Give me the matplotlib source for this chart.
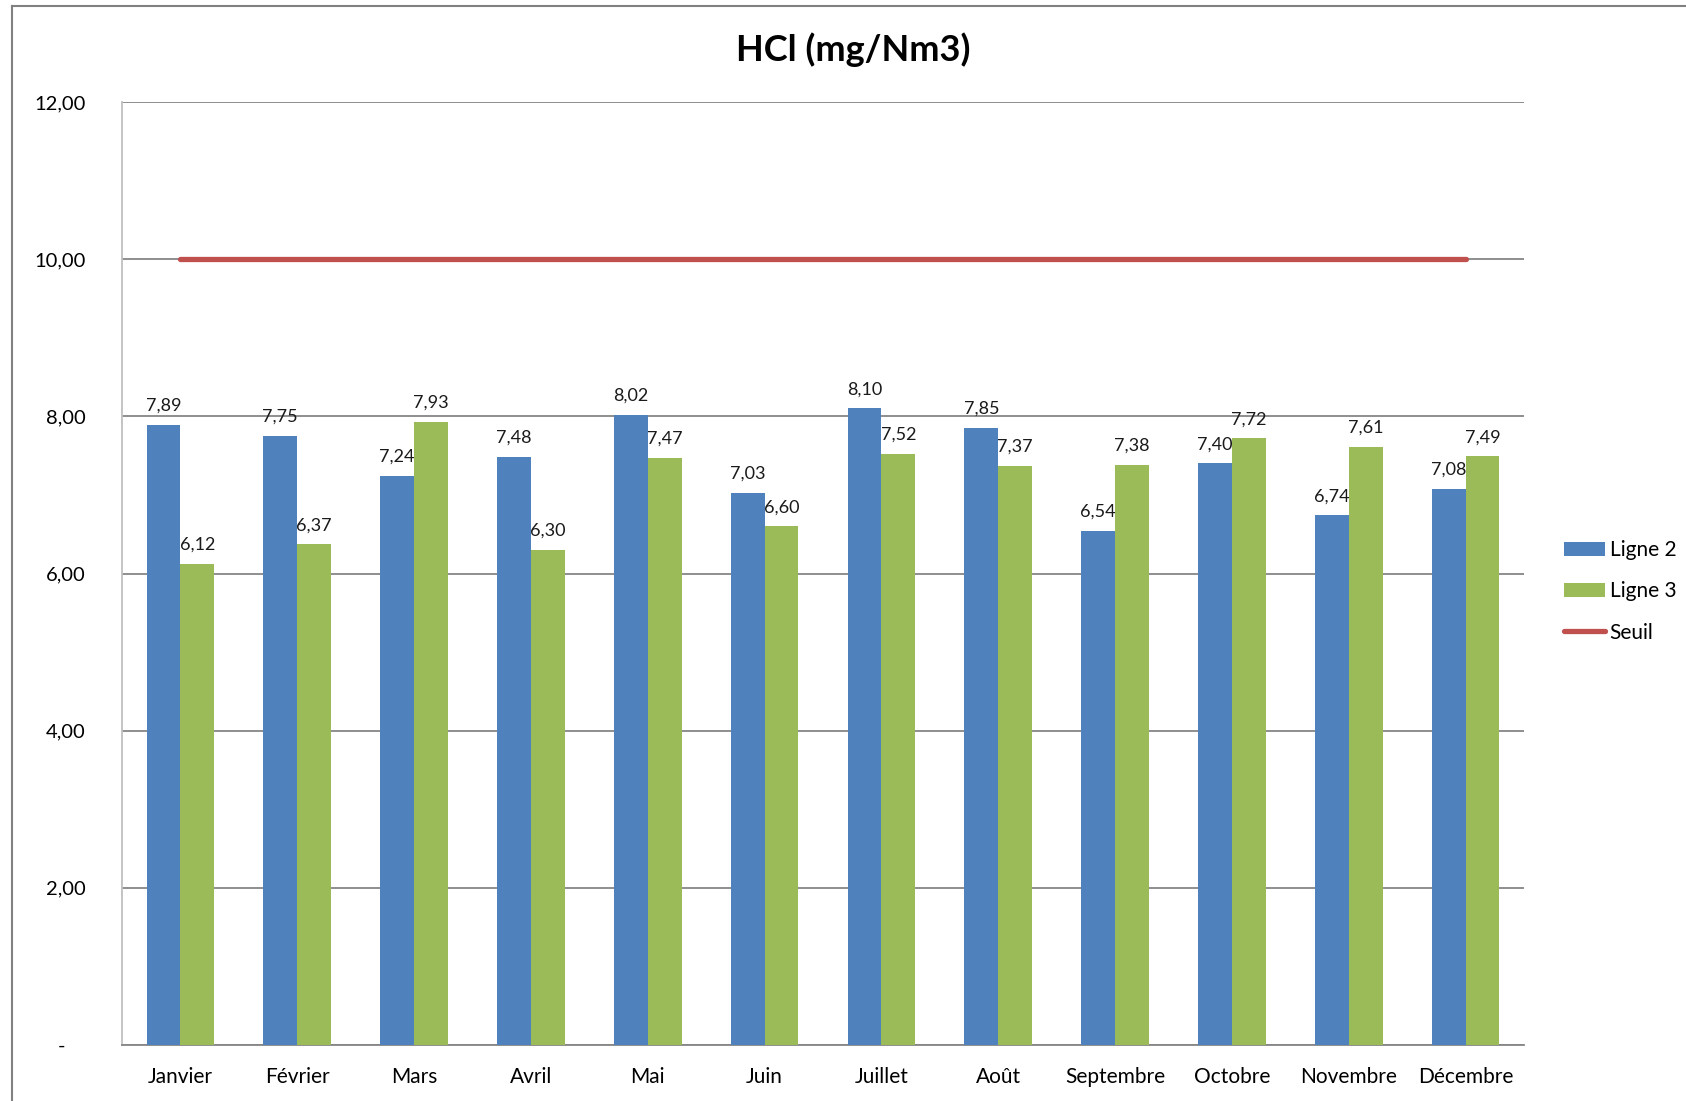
import numpy as np
import matplotlib
matplotlib.use("Agg")
import matplotlib.pyplot as plt
from matplotlib.lines import Line2D

# Data
months = ["Janvier", "Février", "Mars", "Avril", "Mai", "Juin",
          "Juillet", "Août", "Septembre", "Octobre", "Novembre", "Décembre"]
ligne2 = [7.89, 7.75, 7.24, 7.48, 8.02, 7.03, 8.10, 7.85, 6.54, 7.40, 6.74, 7.08]
ligne3 = [6.12, 6.37, 7.93, 6.30, 7.47, 6.60, 7.52, 7.37, 7.38, 7.72, 7.61, 7.49]
seuil = [10.0] * 12
yticks = [0, 2, 4, 6, 8, 10, 12]

plt.rcParams['font.family'] = ['Lato', 'DejaVu Sans']

blue = "#4F81BD"
green = "#9BBB59"
red = "#C0504D"
gridc = "#868686"

fig = plt.figure(figsize=(16.86, 11.01), dpi=100)
ax = fig.add_axes([122/1686, 1 - 1045/1101, (1524-122)/1686, (1045-102)/1101])

x = np.arange(len(months))
w = 0.29
b2 = ax.bar(x - w/2, ligne2, w, color=blue, label="Ligne 2", zorder=3)
b3 = ax.bar(x + w/2, ligne3, w, color=green, label="Ligne 3", zorder=3)
ln, = ax.plot(x, seuil, color=red, lw=3.8, solid_capstyle='round', label="Seuil", zorder=4)

def fmt(v):
    return f"{v:.2f}".replace(".", ",")

for bars, vals in ((b2, ligne2), (b3, ligne3)):
    for r, v in zip(bars, vals):
        ax.annotate(fmt(v), (r.get_x() + r.get_width()/2, v), xytext=(0, 8),
                    textcoords="offset points", ha="center", va="bottom",
                    fontsize=13, color="#1a1a1a", zorder=5)

ax.set_xlim(-0.5, 11.5)
ax.set_ylim(0, 12)
ax.set_yticks(yticks)
# zero shown as a dash, accounting style
ax.set_yticklabels(["-    " if t == 0 else fmt(t) for t in yticks], fontsize=14.5)
ax.set_xticks(x)
ax.set_xticklabels(months, fontsize=15)
ax.tick_params(axis='y', length=0, pad=26)
ax.tick_params(axis='x', length=0, pad=16)
ax.yaxis.grid(True, color=gridc, lw=1.3, zorder=1)
ax.set_axisbelow(True)
for s in ("top", "right"):
    ax.spines[s].set_visible(False)
ax.spines["left"].set_color("#BFBFBF")
ax.spines["left"].set_linewidth(1.3)
ax.spines["bottom"].set_color(gridc)
ax.spines["bottom"].set_linewidth(1.3)

fig.text(853/1686, 1 - 50/1101, "HCl (mg/Nm3)", ha="center", va="center",
         fontsize=26, fontweight="bold")

leg = ax.legend([b2, b3, ln], ["Ligne 2", "Ligne 3", "Seuil"],
                loc="center left", bbox_to_anchor=(1.015, 0.481), frameon=False,
                fontsize=15, handlelength=2.0, handleheight=0.7,
                labelspacing=1.02, handletextpad=0.2)

# outer chart frame (left and top edges only visible)
fig.add_artist(Line2D([12/1686, 12/1686], [0, 1 - 6/1101], color="#808080", lw=1.5))
fig.add_artist(Line2D([12/1686, 1], [1 - 6/1101, 1 - 6/1101], color="#808080", lw=1.5))

fig.savefig("out.png", dpi=100)
